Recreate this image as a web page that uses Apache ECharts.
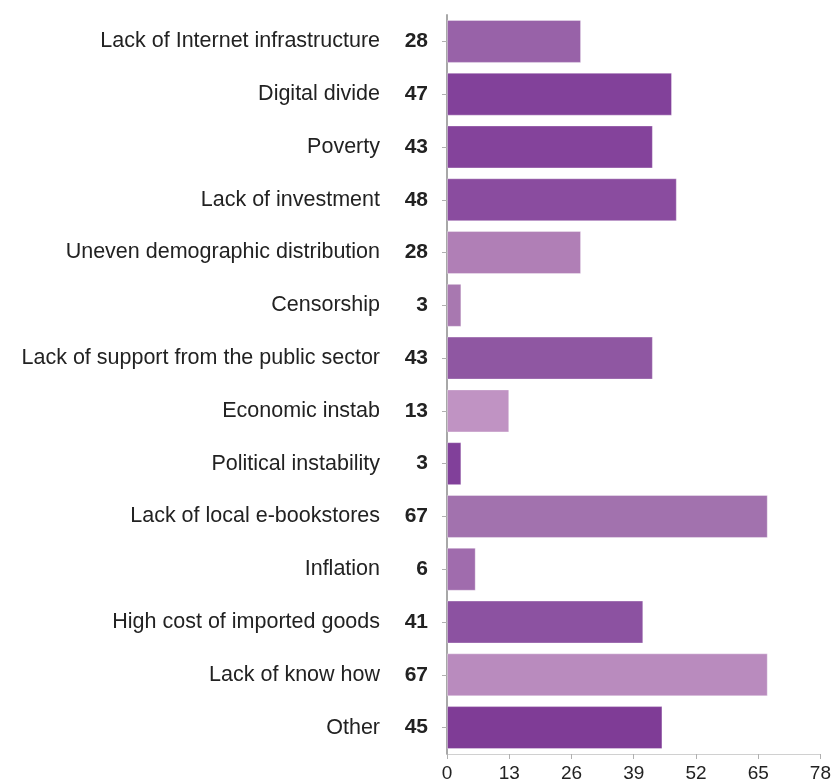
<!DOCTYPE html>
<html>
<head>
<meta charset="utf-8">
<script src="https://cdn.jsdelivr.net/npm/echarts@6/dist/echarts.min.js"></script>
<style>html,body{margin:0;padding:0;background:#fff}#c{width:834px;height:783px}</style>
</head>
<body>
<div id="c"></div>
<script>
const categories = ["Lack of Internet infrastructure","Digital divide","Poverty","Lack of investment","Uneven demographic distribution","Censorship","Lack of support from the public sector","Economic instab","Political instability","Lack of local e-bookstores","Inflation","High cost of imported goods","Lack of know how","Other"];
const values = [28,47,43,48,28,3,43,13,3,67,6,41,67,45];
const barColors = ["#9862a8","#82419a","#84439b","#8a4c9f","#b07fb6","#a878b0","#8f57a2","#c093c3","#81409a","#a272ae","#a06cad","#8c52a1","#b98bbe","#7f3c96"];
const xTicks = [0,13,26,39,52,65,78];

const chart = echarts.init(document.getElementById('c'), null, {renderer:'canvas'});
chart.setOption({
  animation:false,
  grid:{left:447,right:13,top:15,bottom:27,containLabel:false},
  xAxis:{
    type:'value',min:xTicks[0],max:xTicks[xTicks.length-1],interval:13,
    axisLine:{show:true,lineStyle:{color:'#d0d0d0',width:1}},
    axisTick:{show:true,length:5,lineStyle:{color:'#b0b0b0'}},
    splitLine:{show:false},
    axisLabel:{margin:10,fontFamily:'Liberation Sans, Arial, sans-serif',fontSize:19,color:'#222'}
  },
  yAxis:{
    type:'category',inverse:true,data:categories,
    axisLine:{show:true,lineStyle:{color:'#a8a8a8',width:2}},
    axisTick:{show:true,alignWithLabel:true,length:5,lineStyle:{color:'#b0b0b0'}},
    axisLabel:{
      margin:19,
      formatter:function(v,i){return '{n|'+v+'}{v|'+values[i]+'}';},
      rich:{
        n:{fontFamily:'Liberation Sans, Arial, sans-serif',fontSize:21.5,color:'#222'},
        v:{fontFamily:'Liberation Sans, Arial, sans-serif',fontSize:21,fontWeight:'bold',color:'#222',width:48,align:'right'}
      }
    }
  },
  series:[{
    type:'bar',barWidth:43,
    data:values.map((v,i)=>({value:v,itemStyle:{color:barColors[i]}})),
    itemStyle:{borderColor:'rgba(255,255,255,0.35)',borderWidth:1}
  }]
});
</script>
</body>
</html>
